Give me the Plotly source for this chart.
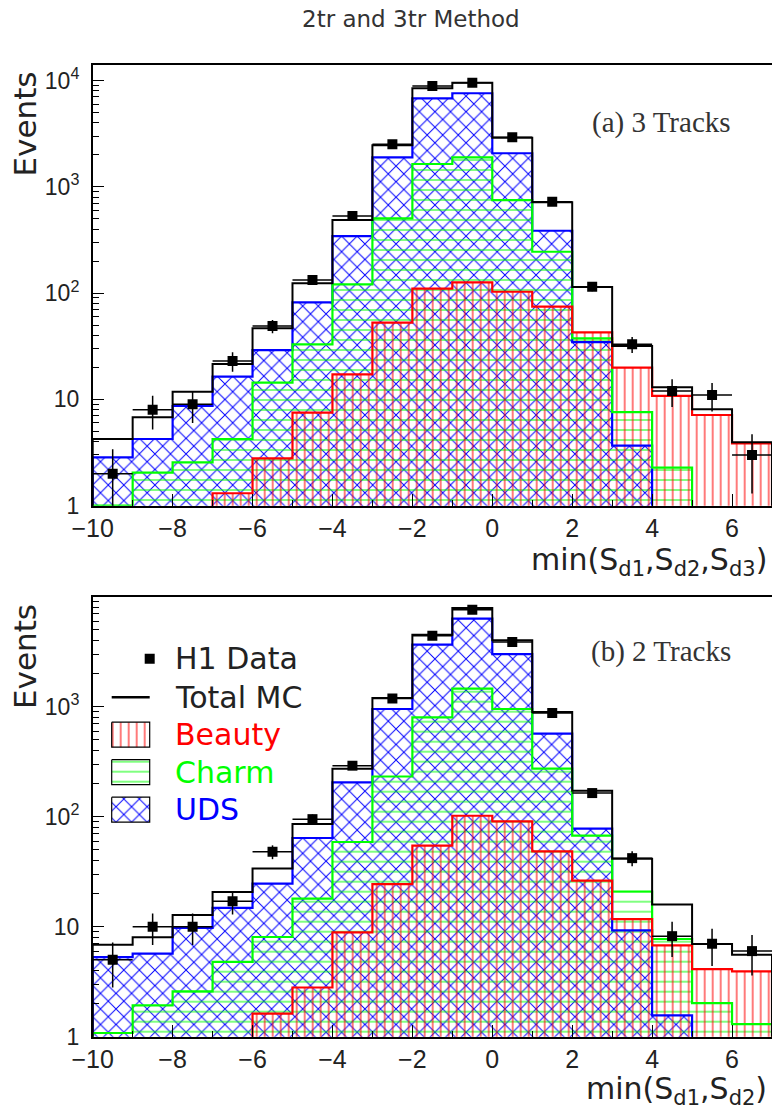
import plotly.graph_objects as go

# ---------------------------------------------------------------- data
# bin centres of the significance histogram (bins of width 1 from -10 to 7)
bin_centres = [-9.5, -8.5, -7.5, -6.5, -5.5, -4.5, -3.5, -2.5, -1.5,
               -0.5, 0.5, 1.5, 2.5, 3.5, 4.5, 5.5, 6.5]
bin_edges = [-10, -9, -8, -7, -6, -5, -4, -3, -2, -1, 0, 1, 2, 3, 4, 5, 6, 7]

# (a) 3 tracks
data_3tr = [2.0, 8.0, 9.0, 23, 49, 133, 531, 2510, 8870, 9540, 2920, 724, 115, 33, 12, 11, 3]
err_3tr = [1.4, 2.8, 3.0, 4.8, 7.0, 11.5, 23, 50, 94, 98, 54, 27, 10.7, 5.7, 3.5, 3.3, 1.7]
total_3tr = [4.24, 6.8, 11.8, 21.5, 46.7, 124, 487, 2460, 8450, 9540, 2900, 715, 114, 31.8, 13.0, 8.07, 3.95]
beauty_3tr = [0, 0, 0, 1.31, 2.79, 7.5, 17.2, 52.7, 110, 126, 103, 74.5, 42.8, 19.9, 10.8, 7.13, 3.86]
charm_3tr = [1.0, 2.05, 2.56, 4.24, 14.4, 33, 121, 505, 1640, 1890, 751, 245, 37.6, 7.6, 2.28, 0, 0]
uds_3tr = [2.85, 4.24, 8.67, 16.4, 29.1, 81.9, 344, 1890, 6800, 7590, 2070, 386, 34.6, 3.67, 0, 0, 0]

# (b) 2 tracks
data_2tr = [5.0, 10, 10, 17, 48, 95, 291, 1190, 4420, 7620, 3870, 877, 164, 42, 8.2, 7.0, 6.0]
err_2tr = [2.2, 3.2, 3.2, 4.1, 6.9, 9.7, 17, 34.5, 66, 87, 62, 30, 12.8, 6.5, 2.9, 2.6, 2.4]
total_2tr = [6.86, 8.0, 12.8, 20.7, 33.9, 85.9, 273, 1200, 4520, 7890, 4010, 895, 172, 41.5, 15.9, 6.96, 5.56]
beauty_2tr = [0, 0, 0, 0, 1.62, 2.8, 8.87, 24.4, 54.5, 102, 90.6, 48.4, 26.2, 11.7, 6.76, 4.12, 3.92]
charm_2tr = [1.08, 1.93, 2.58, 4.78, 8.06, 18, 58.9, 232, 800, 1460, 953, 273, 67.2, 20.9, 7.73, 2.02, 1.3]
uds_2tr = [5.3, 5.68, 9.73, 14.8, 24.6, 64, 205, 953, 3660, 6310, 3010, 568, 77.8, 9.26, 1.56, 0, 0]

y_ticks = [1, 10, 100, 1000, 10000]
y_ticktext = ["1", "10", "10<sup>2</sup>", "10<sup>3</sup>", "10<sup>4</sup>"]
x_ticks = [-10, -8, -6, -4, -2, 0, 2, 4, 6]

# ---------------------------------------------------------------- layout helpers
W, H = 772, 1113
SANS = "DejaVu Sans"
TICKFONT = "Liberation Sans"
SERIF = "Liberation Serif"
TXT = "#222222"


def fx(px):
    return px / W


def fy(py):
    return 1 - py / H


X_DOM = [fx(92.7), 1.0]
YA_DOM = [fy(505.7), fy(65)]
YB_DOM = [fy(1036.7), fy(596.7)]

BLUE, GREEN, RED = "rgb(0,0,255)", "rgb(0,255,0)", "rgb(255,0,0)"
HATCH = {
    "uds": dict(shape="x", fgcolor=BLUE, size=11, solidity=0.17),
    "charm": dict(shape="-", fgcolor=GREEN, size=10, solidity=0.1),
    "beauty": dict(shape="|", fgcolor=RED, size=8, solidity=0.13),
}


def step_outline(values, floor=1e-3):
    """Histogram outline points (for line_shape='hv') incl. drops to the baseline."""
    vals = [v if v > 0 else floor for v in values]
    xs = [bin_edges[0]] + list(bin_edges) + [bin_edges[-1]]
    ys = [floor] + vals + [vals[-1]] + [floor]
    return xs, ys


fig = go.Figure()


def add_panel(xa, ya, data, err, total, beauty, charm, uds):
    comps = [(uds, "uds", BLUE), (charm, "charm", GREEN), (beauty, "beauty", RED)]
    for vals, key, col in comps:
        fig.add_trace(go.Bar(
            x=bin_centres, y=[v if v > 0 else None for v in vals], width=1,
            marker=dict(color="rgba(0,0,0,0)", line=dict(width=0),
                        pattern=dict(bgcolor="rgba(0,0,0,0)", fillmode="replace", **HATCH[key])),
            xaxis=xa, yaxis=ya, showlegend=False, hoverinfo="skip"))
    for vals, key, col in comps:
        xs, ys = step_outline(vals)
        fig.add_trace(go.Scatter(x=xs, y=ys, mode="lines", line=dict(color=col, width=2.2, shape="hv"),
                                 xaxis=xa, yaxis=ya, showlegend=False, hoverinfo="skip"))
    xs, ys = step_outline(total)
    fig.add_trace(go.Scatter(x=xs, y=ys, mode="lines", line=dict(color="black", width=2, shape="hv"),
                             xaxis=xa, yaxis=ya, showlegend=False, hoverinfo="skip"))
    fig.add_trace(go.Scatter(
        x=bin_centres, y=data, mode="markers",
        marker=dict(symbol="square", size=10, color="black"),
        error_y=dict(type="data", array=err, color="black", thickness=1.5, width=0),
        error_x=dict(type="constant", value=0.5, color="black", thickness=1.5, width=0),
        xaxis=xa, yaxis=ya, showlegend=False))


add_panel("x", "y", data_3tr, err_3tr, total_3tr, beauty_3tr, charm_3tr, uds_3tr)
add_panel("x2", "y2", data_2tr, err_2tr, total_2tr, beauty_2tr, charm_2tr, uds_2tr)

# ---------------------------------------------------------------- legend (drawn in panel b)
LX0, LX1 = 19, 57          # symbol column, px from the panel's left edge
LTX = 80                   # text column
rows = [62, 100.5, 138, 175.5, 213]
fig.add_trace(go.Scatter(x=[LX1], y=[rows[0]], mode="markers",
                         marker=dict(symbol="square", size=10, color="black"),
                         xaxis="x3", yaxis="y3", showlegend=False, hoverinfo="skip"))
fig.add_trace(go.Scatter(x=[LX0, LX1], y=[rows[1], rows[1]], mode="lines",
                         line=dict(color="black", width=2.5),
                         xaxis="x3", yaxis="y3", showlegend=False, hoverinfo="skip"))
for row, key in zip(rows[2:], ["beauty", "charm", "uds"]):
    top, bot = row - 12.5, row + 12.5
    fig.add_trace(go.Scatter(
        x=[LX0, LX1, LX1, LX0, LX0], y=[top, top, bot, bot, top], mode="lines",
        fill="toself", fillcolor="rgba(0,0,0,0)",
        fillpattern=dict(bgcolor="rgba(0,0,0,0)", fillmode="replace", **HATCH[key]),
        line=dict(color="black", width=1.2),
        xaxis="x3", yaxis="y3", showlegend=False, hoverinfo="skip"))

legend_items = [("H1 Data", TXT), ("Total MC", TXT), ("Beauty", RED), ("Charm", GREEN), ("UDS", BLUE)]
annotations = []
for row, (label_text, col) in zip(rows, legend_items):
    annotations.append(dict(x=LTX, y=row, xref="x3", yref="y3", text=label_text, showarrow=False,
                            xanchor="left", yanchor="middle",
                            font=dict(family=SANS, size=30, color=col)))

# ---------------------------------------------------------------- axis styling
axis_common = dict(showline=True, linecolor="black", linewidth=1.5, showgrid=False, zeroline=False,
                   automargin=False,
                   ticks="inside", tickcolor="black", ticklen=12, tickwidth=1.2,
                   tickfont=dict(family=TICKFONT, size=25, color=TXT))
minor_logs = [k * 10 ** d for d in range(0, 5) for k in range(2, 10)]

xcfg = dict(axis_common, range=[-10, 7], domain=X_DOM, mirror=True,
            tickmode="array", tickvals=x_ticks,
            minor=dict(ticks="inside", ticklen=6, tickcolor="black", tickwidth=1, dtick=1, tick0=-10))
ycfg = dict(axis_common, type="log", mirror=False, ticklabelstandoff=7,
            tickfont=dict(family=TICKFONT, size=23, color=TXT),
            tickmode="array", tickvals=y_ticks, ticktext=y_ticktext,
            minor=dict(ticks="inside", ticklen=7, tickcolor="black", tickwidth=1,
                       tickmode="array", tickvals=minor_logs))

fig.update_layout(
    width=W, height=H, margin=dict(l=0, r=0, t=0, b=0, autoexpand=False),
    paper_bgcolor="white", plot_bgcolor="rgba(0,0,0,0)",
    barmode="overlay", bargap=0, showlegend=False,
    xaxis=dict(xcfg, anchor="y"),
    yaxis=dict(ycfg, domain=YA_DOM, range=[0, 4.146], anchor="x"),
    xaxis2=dict(xcfg, anchor="y2"),
    yaxis2=dict(ycfg, domain=YB_DOM, range=[0, 4.0], anchor="x2",
                tickvals=y_ticks[:4], ticktext=y_ticktext[:4]),
    xaxis3=dict(domain=X_DOM, range=[0, 679.3], visible=False, overlaying="x2", anchor="y3",
                automargin=False),
    yaxis3=dict(domain=YB_DOM, range=[440, 0], visible=False, overlaying="y2", anchor="x3",
                automargin=False),
)


def label(px, py, text, family, size, color=TXT, xanchor="center", angle=0):
    return dict(x=fx(px), y=fy(py), xref="paper", yref="paper", text=text, textangle=angle,
                xanchor=xanchor, yanchor="middle", showarrow=False,
                font=dict(family=family, size=size, color=color))


annotations += [
    label(411, 19, "2tr and 3tr Method", SANS, 23, "#333333"),
    label(661, 122, "(a) 3 Tracks", SERIF, 29, "#333333"),
    label(661, 651, "(b) 2 Tracks", SERIF, 29, "#333333"),
    label(25, 123.5, "Events", SANS, 31, angle=-90),
    label(25, 656, "Events", SANS, 31, angle=-90),
    label(769, 561, "min(S<sub>d1</sub>,S<sub>d2</sub>,S<sub>d3</sub>)", SANS, 30, xanchor="right"),
    label(769, 1090, "min(S<sub>d1</sub>,S<sub>d2</sub>)", SANS, 30, xanchor="right"),
]
fig.update_layout(annotations=annotations)

fig.write_html("out.html")
